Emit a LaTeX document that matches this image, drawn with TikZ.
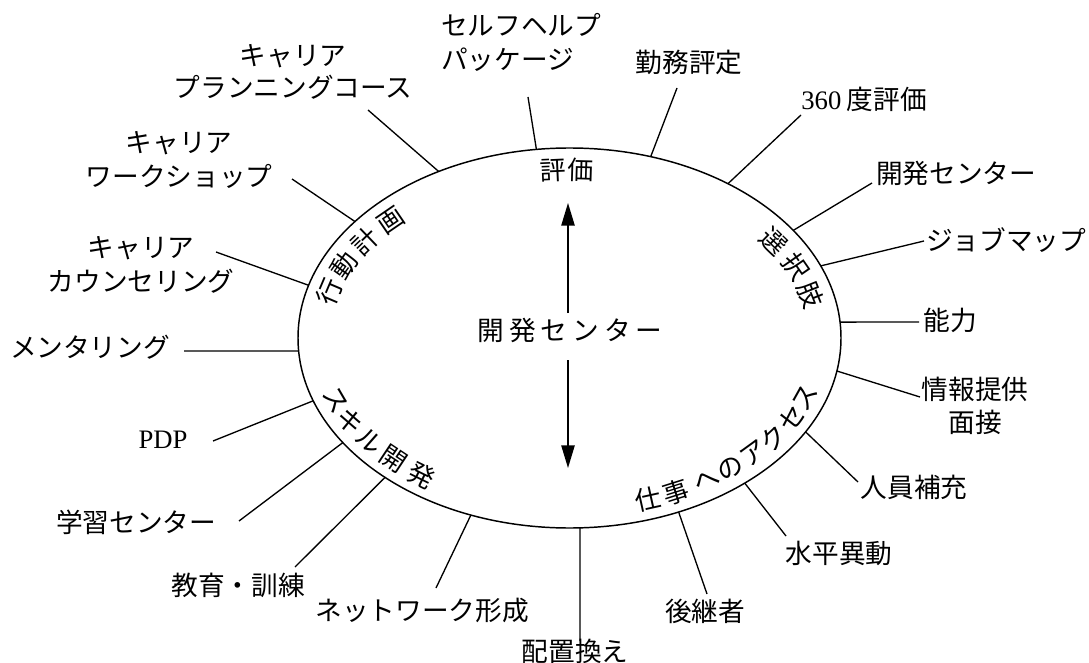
\documentclass[tikz,border=0pt]{standalone}
\usepackage{fontspec}
\setmainfont{Noto Sans CJK JP}
\newfontfamily\latfont{Liberation Serif}
\newfontfamily\wideja[LetterSpace=19]{Noto Sans CJK JP}
\usetikzlibrary{arrows.meta}
\tikzset{
  lbl/.style={font=\fontsize{20pt}{25pt}\selectfont, inner sep=0pt, align=center},
  inlbl/.style={font=\fontsize{19.5pt}{24pt}\selectfont, inner sep=0pt},
  conn/.style={line width=1pt, black},
  rim/.style={line width=1.1pt, black},
  arr/.style={line width=1.1pt, -{Triangle[length=17pt,width=10pt]}},
}
% characters on the inner side of the ellipse
\newcommand{\topchar}[3]{\node[inlbl, rotate={atan2(-168*cos(#2),249.5*sin(#2))}] (#1) at ({569.5+249.5*cos(#2)},{-338+168*sin(#2)}) {#3};}
\newcommand{\botchar}[3]{\node[inlbl, rotate={atan2(170*cos(#2),-251.5*sin(#2))}] (#1) at ({569.5+251.5*cos(#2)},{-338+170*sin(#2)}) {#3};}
\newcommand{\rimpt}[2]{\coordinate (#1) at ({569.5+271.5*cos(#2)},{-338+190*sin(#2)});}
\begin{document}
\begin{tikzpicture}[x=0.75pt,y=0.75pt]
\useasboundingbox (0,0) rectangle (1089,-663);
\fill[white] (0,0) rectangle (1089,-663);

% ellipse
\draw[rim] (569.5,-338) ellipse [x radius=271.5, y radius=190];

% curved category labels
\topchar{ev1}{93.7}{評}
\topchar{ev2}{87.5}{価}
\topchar{ac1}{164}{行}
\topchar{ac2}{154.5}{動}
\topchar{ac3}{145}{計}
\topchar{ac4}{135.5}{画}
\topchar{ch1}{35}{選}
\topchar{ch2}{25}{択}
\topchar{ch3}{15}{肢}
\botchar{sk1}{201.5}{ス}
\botchar{sk2}{209.5}{キ}
\botchar{sk3}{217.5}{ル}
\botchar{sk4}{225.5}{開}
\botchar{sk5}{234}{発}
\botchar{jb1}{288.2}{仕}
\botchar{jb2}{295}{事}
\botchar{jb3}{303}{へ}
\botchar{jb4}{309.8}{の}
\botchar{jb5}{317}{ア}
\botchar{jb6}{324}{ク}
\botchar{jb7}{332}{セ}
\botchar{jb8}{339.3}{ス}

% centre
\node[lbl, font=\wideja\fontsize{20pt}{25pt}\selectfont] (ctr) at (570,-330) {開発センター};
\coordinate (up1) at (568,-313);
\coordinate (up2) at (568,-203);
\coordinate (dn1) at (568,-360);
\coordinate (dn2) at (568,-468);
\draw[arr] (up1) -- (up2);
\draw[arr] (dn1) -- (dn2);

% outer labels
\node[lbl, align=left, anchor=west, font=\fontsize{20pt}{26pt}\selectfont] (l1) at (441,-42.5) {セルフヘルプ\\パッケージ};
\node[lbl] (l2) at (689,-62) {勤務評定};
\node[lbl] (l3) at (864,-99) {{\latfont 360}\hspace{4pt}度評価};
\node[lbl] (l4) at (956,-173) {開発センター};
\node[lbl] (l5) at (1006,-240) {ジョブマップ};
\node[lbl] (l6) at (950,-320) {能力};
\node[lbl] (l7) at (975,-406) {情報提供\\面接};
\node[lbl] (l8) at (914,-487) {人員補充};
\node[lbl] (l9) at (839,-553) {水平異動};
\node[lbl] (l10) at (705,-611) {後継者};
\node[lbl] (l11) at (575,-651) {配置換え};
\node[lbl] (l12) at (422,-610) {ネットワーク形成};
\node[lbl] (l13) at (238,-585) {教育・訓練};
\node[lbl] (l14) at (136,-522) {学習センター};
\node[lbl, font=\latfont\fontsize{20pt}{25pt}\selectfont] (l15) at (163,-440) {PDP};
\node[lbl] (l16) at (90,-347) {メンタリング};
\node[lbl] (l17) at (141,-265) {キャリア\\カウンセリング};
\node[lbl] (l18) at (179,-160) {キャリア\\ワークショップ};
\node[lbl, font=\fontsize{20pt}{23.5pt}\selectfont] (l19) at (293,-72) {キャリア\\プランニングコース};

% connector ends on the rim
\rimpt{r1}{97}
\rimpt{r2}{72.6}
\rimpt{r3}{54.3}
\rimpt{r4}{34.5}
\rimpt{r5}{22.3}
\rimpt{r6}{4.8}
\rimpt{r7}{-10}
\rimpt{r8}{-29.6}
\rimpt{r9}{-49.8}
\rimpt{r10}{-66.3}
\rimpt{r11}{-87.8}
\rimpt{r12}{248.7}
\rimpt{r13}{227.2}
\rimpt{r14}{213.4}
\rimpt{r15}{199.3}
\rimpt{r16}{183.9}
\rimpt{r17}{163.9}
\rimpt{r18}{142.2}
\rimpt{r19}{118.8}

% free outer ends
\coordinate (o1) at (528,-97);
\coordinate (o2) at (677,-88);
\coordinate (o3) at (801,-115);
\coordinate (o4) at (872,-183);
\coordinate (o5) at (924,-241);
\coordinate (o6) at (919,-322);
\coordinate (o7) at (920,-397);
\coordinate (o8) at (858,-482);
\coordinate (o9) at (786,-536);
\coordinate (o10) at (707,-594);
\coordinate (o11) at (580,-641);
\coordinate (o12) at (436,-588);
\coordinate (o13) at (295,-567);
\coordinate (o14) at (239,-521);
\coordinate (o15) at (213,-441);
\coordinate (o16) at (184,-351);
\coordinate (o17) at (216,-252);
\coordinate (o18) at (292,-179);
\coordinate (o19) at (368,-110);

\foreach \i in {1,...,19} {\draw[conn] (r\i) -- (o\i);}
\end{tikzpicture}
\end{document}
